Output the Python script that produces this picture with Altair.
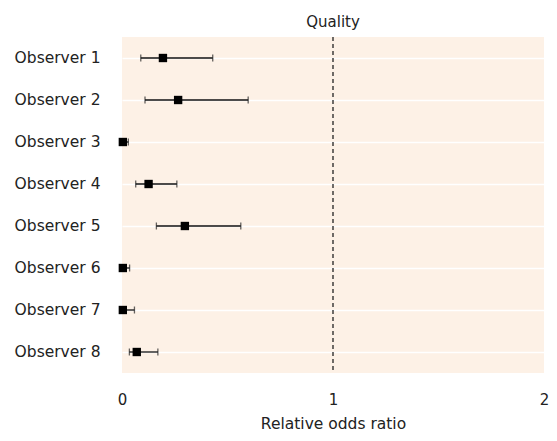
import altair as alt
import pandas as pd

observers = ["Observer 1", "Observer 2", "Observer 3", "Observer 4",
             "Observer 5", "Observer 6", "Observer 7", "Observer 8"]
odds = [0.194, 0.266, 0.004, 0.126, 0.298, 0.004, 0.004, 0.07]
lower = [0.089, 0.109, 0.0, 0.065, 0.163, 0.0, 0.0, 0.035]
upper = [0.43, 0.598, 0.03, 0.26, 0.563, 0.036, 0.059, 0.17]
x_domain = [0, 2]
ref_value = [1]

df = pd.DataFrame({"observer": observers, "odds": odds, "lower": lower, "upper": upper})
ref = pd.DataFrame({"v": ref_value})

FONT = "DejaVu Sans"

xscale = alt.Scale(domain=x_domain, nice=False, zero=False)
yscale = alt.Scale(domain=observers, paddingInner=0, paddingOuter=0)

xaxis = alt.Axis(tickCount=2, format="d", title="Relative odds ratio",
                 grid=False, ticks=False, domain=False, labelPadding=19,
                 labelOverlap=False, labelFlush=False, labelBound=False,
                 titlePadding=9, labelFontSize=15, titleFontSize=15.5,
                 labelColor="#222222", titleColor="#222222", labelFont=FONT, titleFont=FONT,
                 titleFontWeight="normal")
yaxis = alt.Axis(title=None, grid=True, gridColor="white", gridWidth=1.5,
                 ticks=False, domain=False, labelPadding=22, labelFontSize=15.5,
                 labelColor="#222222", labelFont=FONT, bandPosition=0.5)

base = alt.Chart(df)

err = base.mark_errorbar(ticks=alt.MarkConfig(size=7, color="#222222"), color="#111111",
                         thickness=1.3, clip=False).encode(
    x=alt.X("lower:Q", scale=xscale, axis=xaxis),
    x2="upper:Q",
    y=alt.Y("observer:N", scale=yscale, axis=yaxis, sort=observers),
)

pts = base.mark_square(size=70, color="black", opacity=1, clip=False).encode(
    x=alt.X("odds:Q", scale=xscale, axis=xaxis),
    y=alt.Y("observer:N", scale=yscale, sort=observers, axis=yaxis),
)

rule = alt.Chart(ref).mark_rule(color="#222222", strokeDash=[4, 3], strokeWidth=1.3).encode(
    x=alt.X("v:Q", scale=xscale, axis=xaxis)
)

chart = alt.layer(err, rule, pts).properties(
    width=422, height=336,
    title=alt.TitleParams("Quality", font=FONT, fontSize=15, fontWeight="normal",
                          color="#222222", offset=6),
    autosize=alt.AutoSizeParams(type="none"),
    padding={"left": 114, "top": 29, "right": 5, "bottom": 60},
).configure_view(fill="#FDF1E6", stroke=None)

chart.save("out.html", embed_options={"renderer": "svg", "actions": False})
